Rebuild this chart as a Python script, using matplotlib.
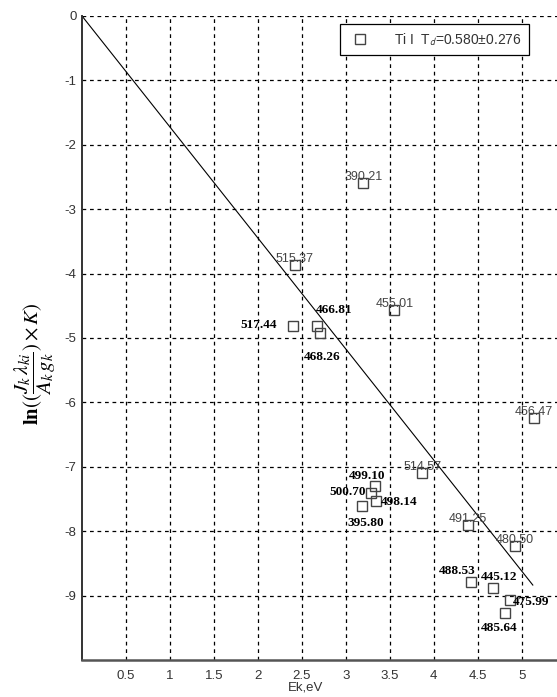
import matplotlib
matplotlib.use("Agg")
import matplotlib.pyplot as plt
import numpy as np

# Boltzmann-plot data: upper level energy (eV) vs ln(J*lambda/(A*g) * K)
wavelengths = ["390.21", "515.37", "455.01", "517.44", "466.81", "468.26",
               "456.47", "514.57", "491.25", "499.10", "500.70", "498.14",
               "395.80", "480.50", "488.53", "445.12", "475.99", "485.64"]
energy = [3.20, 2.42, 3.55, 2.40, 2.67, 2.70,
          5.14, 3.87, 4.39, 3.33, 3.28, 3.34,
          3.18, 4.92, 4.42, 4.67, 4.86, 4.81]
ln_int = [-2.59, -3.86, -4.56, -4.82, -4.81, -4.93,
          -6.24, -7.09, -7.90, -7.30, -7.41, -7.53,
          -7.61, -8.23, -8.79, -8.88, -9.07, -9.27]
# which labels are drawn in bold serif
bold_label = [False, False, False, True, True, True,
              False, False, False, True, True, True,
              True, False, True, True, True, True]

td = 0.580
td_err = 0.276
fit_x = [0.0, 5.125]

x_ticks = [0.5, 1, 1.5, 2, 2.5, 3, 3.5, 4, 4.5, 5]
x_ticklabels = ["0.5", "1", "1.5", "2", "2.5", "3", "3.5", "4", "4.5", "5"]
y_ticks = [0, -1, -2, -3, -4, -5, -6, -7, -8, -9]

# pixel offsets for bold labels (text center relative to the marker)
bold_offsets = {
    "517.44": (-34, 1.7), "466.81": (17, 16), "468.26": (3, -23.5),
    "499.10": (-8, 10.5), "500.70": (-23, 1), "498.14": (23.5, -0.7),
    "395.80": (4, -16.5), "488.53": (-14, 11.5), "445.12": (6, 11),
    "475.99": (22, -2), "485.64": (-5.5, -15),
}

plt.rcParams["mathtext.fontset"] = "stix"
W, H = 557, 697
fig = plt.figure(figsize=(W / 100, H / 100), dpi=100)
ax = fig.add_axes([82 / W, (H - 660) / H, (W - 82) / W, (660 - 16) / H])
ax.set_xlim(0, 5.4)
ax.set_ylim(-10, 0)

for s in ("top", "right"):
    ax.spines[s].set_visible(False)
ax.spines["left"].set_color("#333333")
ax.spines["left"].set_linewidth(1.4)
ax.spines["bottom"].set_color("#555555")
ax.spines["bottom"].set_linewidth(1.8)

ax.set_xticks(x_ticks)
ax.set_xticklabels(x_ticklabels)
ax.set_yticks(y_ticks)
ax.set_yticklabels([str(v) for v in y_ticks])
ax.tick_params(axis="both", length=0, labelsize=9.5, labelcolor="#333333",
               pad=5)
for lab in ax.get_xticklabels() + ax.get_yticklabels():
    lab.set_family("Liberation Sans")
ax.tick_params(axis="x", pad=7)
ax.tick_params(axis="y", pad=4)

ax.grid(True, color="black", linestyle=(0, (3, 3)), linewidth=0.9)
ax.set_axisbelow(True)

px = 72 / 100  # points per pixel

ax.plot(fit_x, [-x / td for x in fit_x], color="black", linewidth=0.8,
        zorder=2)
ax.plot(energy, ln_int, linestyle="none", marker="s", markersize=6.5,
        markerfacecolor="none", markeredgecolor="#444444",
        markeredgewidth=1.0, zorder=3,
        label=r"Ti I  T$_{\mathsf{d}}$=%.3f±%.3f" % (td, td_err))

for name, x, y, b in zip(wavelengths, energy, ln_int, bold_label):
    if b:
        dx, dy = bold_offsets[name]
        ax.annotate(name, (x, y), xytext=(dx * px, dy * px),
                    textcoords="offset points", ha="center", va="center",
                    family="Liberation Serif", fontweight="bold",
                    fontsize=9.5, color="black", zorder=4)
    else:
        ax.annotate(name, (x, y), xytext=(0, 3 * px),
                    textcoords="offset points", ha="center", va="baseline",
                    family="Liberation Sans", fontsize=9,
                    color="#444444", zorder=4)

leg = ax.legend(loc="upper right", bbox_to_anchor=((529 - 82) / 475, (660 - 24) / 644),
                prop={"family": "Liberation Sans", "size": 10},
                frameon=True, fancybox=False, framealpha=1,
                edgecolor="black", borderpad=0.55, handletextpad=1.5,
                handlelength=1.8, borderaxespad=0)
leg.get_frame().set_linewidth(0.9)
for t in leg.get_texts():
    t.set_color("#333333")

fig.text(35 / W, (H - 364) / H,
         r"$\mathbf{ln}((\dfrac{J_k\,\lambda_{ki}}{A_k\,g_k})\times K)$",
         rotation=90, ha="center", va="center", fontsize=15)
fig.text(306 / W, (H - 688) / H, "Ek,eV", ha="center", va="center",
         family="Liberation Sans", fontsize=9.5, color="#333333")

fig.savefig("out.png", dpi=100)
